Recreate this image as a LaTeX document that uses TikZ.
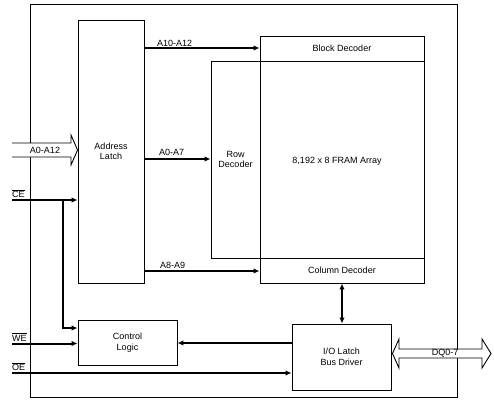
\documentclass[tikz,border=0pt]{standalone}
\usepackage{fontspec}
\setmainfont{Liberation Sans}
\usetikzlibrary{arrows.meta}
\newcommand\ovl[1]{$\overline{\mbox{#1}}$}
\begin{document}
\begin{tikzpicture}[x=1pt,y=-1pt,
  font=\fontsize{9}{10.5}\selectfont,
  box/.style={draw, line width=0.9pt, inner sep=0pt, align=center},
  sig/.style={line width=2pt, -{Latex[length=6pt,width=5.5pt]}},
  bisig/.style={line width=2pt, {Latex[length=6pt,width=5.5pt]}-{Latex[length=6pt,width=5.5pt]}},
  lbl/.style={inner sep=0pt, anchor=base west},
  hollow/.style={draw, fill=white, line width=0.9pt, line join=miter}]
\useasboundingbox (0,0) rectangle (494,404);
% outer chip boundary
\node[box, minimum width=427pt, minimum height=393pt] (chip) at (243.5,200.5) {};
% blocks
\node[box, minimum width=66pt, minimum height=263pt] (latch) at (111,151.5) {Address\\Latch};
\node[box, minimum width=164pt, minimum height=25pt] (block) at (342,48.5) {Block Decoder};
\node[box, minimum width=49pt, minimum height=197pt] (row) at (235.5,159.5) {Row\\Decoder};
\node[box, minimum width=164pt, minimum height=197pt] (array) at (342,159.5) {};
\node[inner sep=0pt] (arraytxt) at (337,161) {8,192 x 8 FRAM Array};
\node[box, minimum width=164pt, minimum height=25pt] (col) at (342,270.5) {Column Decoder};
\node[box, minimum width=99pt, minimum height=45pt, font=\fontsize{9}{11.5}\selectfont] (ctrl) at (127.5,342.5) {Control\\Logic};
\node[box, minimum width=99pt, minimum height=66pt, font=\fontsize{9}{11.5}\selectfont] (io) at (341.5,357) {I/O Latch\\Bus Driver};
% wide address input arrow
\draw[hollow] (12,143) -- (71,143) -- (71,135) -- (latch.west |- 0,150) -- (71,165) -- (71,157) -- (12,157);
\node[inner sep=0pt] (addrlbl) at (45,150) {A0-A12};
% wide data bus arrow
\draw[hollow] (399,349) -- (482,349) -- (482,339) -- (491,353.5) -- (482,368) -- (482,358)
  -- (399,358) -- (399,368) -- ([xshift=1pt]io.east |- 0,353.5) -- (399,339) -- cycle;
\node[inner sep=0pt] (dqlbl) at (445,353.5) {DQ0-7};
% address buses
\coordinate (a1) at (latch.east |- 0,48);
\draw[sig] (a1) -- (a1 -| block.west);
\node[lbl] (a1l) at (157,46) {A10-A12};
\coordinate (a2) at (latch.east |- 0,159);
\draw[sig] (a2) -- (a2 -| row.west);
\node[lbl] (a2l) at (159,155.5) {A0-A7};
\coordinate (a3) at (latch.east |- 0,271);
\draw[sig] (a3) -- (a3 -| col.west);
\node[lbl] (a3l) at (160,268.5) {A8-A9};
% control inputs
\coordinate (ce) at (12,200);
\draw[sig] (ce) -- (ce -| latch.west);
\node[lbl] (cel) at (12,197.5) {\ovl{CE}};
\coordinate (ceb) at (63,200);
\draw[sig] (ceb) |- ([yshift=14.5pt]ctrl.west);
\coordinate (we) at (12,343.5);
\draw[sig] (we) -- (we -| ctrl.west);
\node[lbl] (wel) at (12,341) {\ovl{WE}};
\coordinate (oe) at (12,373);
\draw[sig] (oe) -- (oe -| io.west);
\node[lbl] (oel) at (12,370.5) {\ovl{OE}};
% I/O to control logic
\draw[sig] ([yshift=14pt]io.west) -- ([yshift=14pt]io.west -| ctrl.east);
% column decoder <-> I/O
\draw[bisig] (col.south) -- (col.south |- io.north);
\end{tikzpicture}
\end{document}
